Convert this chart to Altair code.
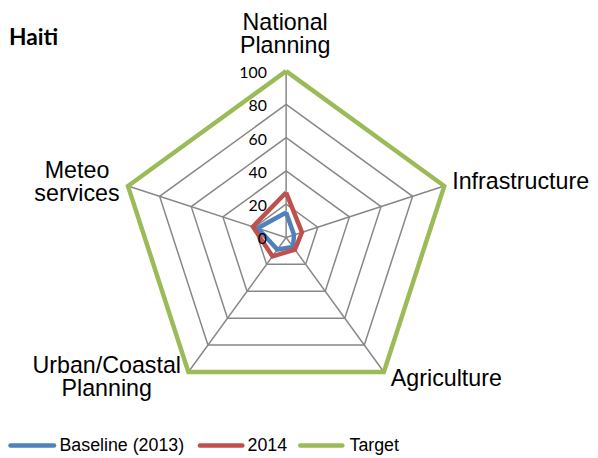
import altair as alt
import numpy as np
import pandas as pd

# ---------------- data ----------------
categories = ["National\nPlanning", "Infrastructure", "Agriculture",
              "Urban/Coastal\nPlanning", "Meteo\nservices"]
series_names = ["Baseline (2013)", "2014", "Target"]
baseline_2013 = [15, 5, 7, 9, 18]
values_2014 = [27, 10, 9, 14, 21]
target = [100, 100, 100, 100, 100]
tick_values = [0, 20, 40, 60, 80, 100]
chart_title = "Haiti"

series_values = [baseline_2013, values_2014, target]
colors = ["#4F81BD", "#C0504D", "#9BBB59"]

# ---------------- layout ----------------
W, H = 588, 450
CX, CY, R = 281.0, 229.5, 168.0   # centre and radius in plot pixels
ppu = R / 100.0
xdom = [-CX / ppu, (W - CX) / ppu]
ydom = [-(H - CY) / ppu, CY / ppu]

n = len(categories)
angles = [2 * np.pi * i / n for i in range(n)]


def polar(v, i):
    return v * np.sin(angles[i]), v * np.cos(angles[i])


rows = []
for s, vals in zip(series_names, series_values):
    for k in range(n + 1):
        i = k % n
        x, y = polar(vals[i], i)
        rows.append({"series": s, "k": k, "x": x, "y": y})
ser_df = pd.DataFrame(rows)

rows = []
for lv in tick_values[1:]:
    for k in range(n + 1):
        i = k % n
        x, y = polar(lv, i)
        rows.append({"level": lv, "k": k, "x": x, "y": y})
grid_df = pd.DataFrame(rows)

rows = []
for i in range(n):
    x2, y2 = polar(tick_values[-1], i)
    rows.append({"x": 0.0, "y": 0.0, "x2": x2, "y2": y2})
spoke_df = pd.DataFrame(rows)

tick_df = pd.DataFrame({"x": [0.0] * len(tick_values),
                        "y": tick_values,
                        "label": [str(t) for t in tick_values]})

rows = []
for i, c in enumerate(categories):
    x, y = polar(tick_values[-1], i)
    rows.append({"i": i, "x": x, "y": y, "label": c})
cat_df = pd.DataFrame(rows)

# legend layout (pixels inside the plot area)
leg_x0 = [2.5, 193.9, 295.2]
leg_x1 = [46.5, 236.8, 337.8]
leg_tx = [52.0, 242.0, 345.0]
leg_line_y = 439.7
leg_text_y = 445.5
leg_df = pd.DataFrame({"series": series_names, "x0": leg_x0, "x1": leg_x1,
                       "tx": leg_tx, "ly": [leg_line_y] * 3,
                       "ty": [leg_text_y] * 3})

xs = alt.Scale(domain=xdom, nice=False, zero=False)
ys = alt.Scale(domain=ydom, nice=False, zero=False)
X = alt.X("x:Q", scale=xs, axis=None)
Y = alt.Y("y:Q", scale=ys, axis=None)
cscale = alt.Scale(domain=series_names, range=colors)

grid = alt.Chart(grid_df).mark_line(color="#878787", strokeWidth=1.5).encode(
    X, Y, detail="level:N", order="k:Q")

spokes = alt.Chart(spoke_df).mark_rule(color="#878787", strokeWidth=1.5).encode(
    X, Y, x2="x2:Q", y2="y2:Q")

lines = alt.Chart(ser_df).mark_line(strokeWidth=4.5, strokeJoin="miter").encode(
    X, Y,
    color=alt.Color("series:N", scale=cscale, sort=series_names, legend=None),
    order="k:Q")

ticks = alt.Chart(tick_df).mark_text(
    align="right", baseline="middle", dx=-19.5, dy=2,
    font="Lato", fontSize=16, color="#000000").encode(X, Y, text="label:N")

# (align, dx, dy) of the first line relative to the axis end
label_style = [
    ("center", -1, -48.1),
    ("left", 8, -3.7),
    ("left", 7, 7.5),
    ("center", -82.5, -5.8),
    ("center", -51.5, -14.7),
]
cat_layers = []
for i, (al, dx, dy) in enumerate(label_style):
    cat_layers.append(
        alt.Chart(cat_df).transform_filter(alt.datum.i == i).mark_text(
            align=al, baseline="middle", dx=dx, dy=dy,
            font="Liberation Sans", fontSize=23.5, lineHeight=23,
            lineBreak="\n", color="#000000").encode(X, Y, text="label:N"))

leg_lines = alt.Chart(leg_df).mark_rule(strokeWidth=4.5, strokeCap="round").encode(
    x=alt.X("x0:Q", scale=None, axis=None), x2="x1:Q",
    y=alt.Y("ly:Q", scale=None, axis=None),
    color=alt.Color("series:N", scale=cscale, legend=None))

leg_text = alt.Chart(leg_df).mark_text(
    align="left", baseline="alphabetic", font="Liberation Sans",
    fontSize=18, color="#000000").encode(
    x=alt.X("tx:Q", scale=None, axis=None),
    y=alt.Y("ty:Q", scale=None, axis=None), text="series:N")

title = alt.Chart(pd.DataFrame({"t": [chart_title]})).mark_text(
    align="left", baseline="alphabetic", font="Lato", fontWeight="bold",
    fontSize=23, color="#000000").encode(
    x=alt.value(1), y=alt.value(35.3), text="t:N")

chart = alt.layer(grid, spokes, lines, ticks, *cat_layers, leg_lines, leg_text,
                  title).resolve_scale(
    x="independent", y="independent", color="independent"
).properties(
    width=W, height=H, padding=0,
    autosize=alt.AutoSizeParams(type="none")
).configure_view(stroke=None)

chart.save("out.html", embed_options={"renderer": "svg", "actions": False})
